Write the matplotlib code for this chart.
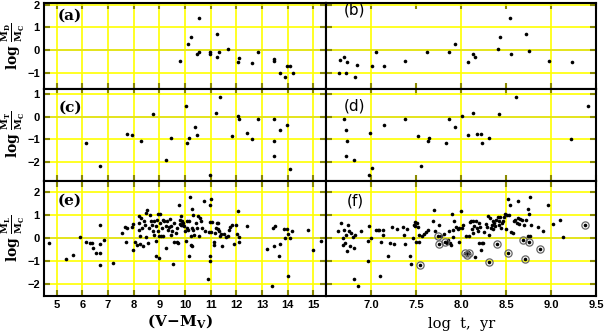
import matplotlib
matplotlib.use("Agg")
import matplotlib.pyplot as plt

# panel (a): log M_D/M_C vs (V-M_V)
a_x = [9.79, 10.12, 10.25, 10.53, 10.45, 10.54, 10.96, 10.97, 11.24, 11.25, 11.34, 11.67,
       12.05, 12.11, 12.60, 12.85, 13.46, 13.49, 13.69, 13.91, 13.96, 14.08, 14.20]
a_y = [-0.50, 0.26, 0.56, 1.40, -0.18, -0.07, -0.10, -0.19, -0.29, 0.72, -0.10, 0.03,
       -0.51, -0.34, -0.56, -0.10, -0.41, -0.50, -1.00, -1.17, -0.69, -0.70, -1.03]

# panel (b): log M_D/M_C vs log t
b_x = [6.656, 6.703, 6.737, 6.648, 6.722, 6.822, 6.844, 7.011, 7.055, 7.14, 7.381, 7.622,
       7.87, 7.929, 8.077, 8.129, 8.159, 8.411, 8.429, 8.548, 8.559, 8.722, 8.759, 8.978, 9.229]
b_y = [-0.43, -0.32, -0.53, -1.03, -1.00, -1.17, -0.66, -0.70, -0.07, -0.69, -0.47, -0.09,
       -0.10, 0.26, -0.51, -0.19, -0.29, 0.03, 0.56, 1.40, -0.16, 0.72, -0.04, -0.48, -0.54]

# panel (c): log M_T/M_C vs (V-M_V)
c_x = [6.13, 6.68, 7.72, 7.94, 8.30, 8.74, 9.27, 9.46, 10.03, 10.09, 10.17, 10.39, 10.46,
       10.99, 11.22, 11.37, 11.84, 12.06, 12.11, 12.43, 12.60, 12.83, 13.48, 13.48, 13.49,
       13.69, 13.96, 14.08]
c_y = [-1.14, -2.15, -0.76, -0.81, -1.08, 0.13, -1.91, -0.95, 0.47, -1.14, -0.92, -0.46,
       -0.79, -2.53, 0.16, 0.83, -0.83, 0.04, -0.13, -0.74, -0.96, -0.09, -0.09, -1.73,
       -1.05, -0.57, -0.38, -2.27]

# panel (d): log M_T/M_C vs log t
d_x = [6.703, 6.722, 6.733, 6.722, 6.814, 6.974, 6.992, 7.011, 7.14, 7.381, 7.522, 7.551,
       7.629, 7.64, 7.833, 7.87, 7.929, 8.007, 8.077, 8.137, 8.178, 8.222, 8.237, 8.307,
       8.418, 8.607, 9.226, 9.407]
d_y = [-0.11, -0.57, -1.05, -1.73, -1.91, -2.53, -0.74, -2.25, -0.38, -0.09, -0.83, -2.15,
       -1.06, -0.92, -1.14, -0.09, -0.46, 0.03, -0.81, 0.16, -0.77, -0.77, -1.14, -0.95,
       0.13, 0.83, -0.96, 0.47]

# panel (e): log M_L/M_C vs (V-M_V)
e_x = [4.69, 5.34, 5.64, 5.89, 6.13, 6.29, 6.36, 6.42, 6.52, 6.68, 6.68, 6.68, 6.70, 6.84,
       7.20, 7.53, 7.66, 7.70, 7.73, 7.93, 7.97, 7.99, 8.04, 8.12, 8.19, 8.19, 8.20, 8.23,
       8.25, 8.28, 8.32, 8.36, 8.41, 8.45, 8.48, 8.49, 8.52, 8.54, 8.58, 8.62, 8.67, 8.71,
       8.75, 8.78, 8.81, 8.85, 8.86, 8.88, 8.91, 8.94, 8.96, 8.98, 9.00, 9.03, 9.04, 9.07,
       9.11, 9.13, 9.15, 9.17, 9.24, 9.27, 9.30, 9.34, 9.37, 9.41, 9.44, 9.46, 9.50, 9.54,
       9.57, 9.59, 9.63, 9.67, 9.70, 9.72, 9.76, 9.79, 9.80, 9.83, 9.84, 9.87, 9.89, 9.92,
       9.95, 9.99, 10.03, 10.07, 10.09, 10.13, 10.16, 10.17, 10.18, 10.22, 10.25, 10.26,
       10.28, 10.29, 10.30, 10.33, 10.35, 10.42, 10.46, 10.51, 10.55, 10.59, 10.64, 10.68,
       10.75, 10.77, 10.88, 10.94, 10.96, 10.97, 10.97, 10.99, 11.02, 11.03, 11.07, 11.14,
       11.14, 11.18, 11.21, 11.25, 11.27, 11.30, 11.34, 11.36, 11.40, 11.44, 11.54, 11.60,
       11.67, 11.73, 11.77, 11.84, 11.93, 11.99, 12.03, 12.06, 12.09, 12.10, 12.43, 13.18,
       13.40, 13.44, 13.48, 13.50, 13.67, 13.70, 13.87, 13.92, 13.97, 14.02, 14.02, 14.08,
       14.16, 14.79, 15.01, 15.30]
e_y = [-0.22, -0.93, -0.73, 0.04, -0.15, -0.22, -0.22, -0.44, -0.66, -0.66, -0.26, -1.19,
       0.55, -0.07, -1.08, 0.22, 0.48, -0.19, 0.44, 0.48, 0.61, -0.51, -0.15, -0.29, 0.95,
       0.66, 0.36, 0.07, -0.26, 0.87, 0.44, -0.36, 0.73, 0.58, 0.03, 1.09, 1.24, -0.22,
       0.44, 1.02, 0.73, 0.58, 0.29, 0.12, 0.73, -0.77, -0.12, 0.51, 0.80, 0.29, 1.05,
       -0.87, 0.10, 0.66, 1.05, 0.07, 0.44, 0.80, 0.10, 0.73, 0.51, -0.41, 0.73, 0.36,
       0.47, 0.83, 0.51, 0.15, 0.32, -1.14, -0.15, 0.66, 0.22, -0.19, 0.44, -0.22, 1.46,
       0.80, 0.61, 0.95, 0.58, 0.73, 0.58, 0.66, 0.51, 0.29, -0.12, 0.73, 0.44, 0.36, 0.73,
       -0.76, 1.78, 0.07, -0.29, 0.44, 1.28, -0.36, 0.99, 0.36, 0.15, 0.66, 0.44, 0.95,
       0.07, 0.87, 0.73, 0.44, 1.63, 0.29, -1.79, 0.26, 1.43, -0.99, -0.76, 0.70, 1.72,
       0.26, 0.70, -0.15, -0.29, 0.22, 0.44, 0.66, 0.41, 0.66, 0.29, 0.07, 0.17, -0.36,
       0.17, 0.03, 0.07, 0.36, 0.47, 0.55, -0.26, 0.55, 0.17, 1.16, 0.03, -0.17, 0.51,
       -0.47, -2.08, 0.44, -0.36, 0.51, -0.76, -0.26, 0.41, 0.00, 0.41, -1.67, 0.17, 0.00,
       0.29, 0.36, -0.54, -0.12]

# panel (f): log M_L/M_C vs log t
f_x = [6.637, 6.667, 6.685, 6.693, 6.704, 6.715, 6.722, 6.730, 6.741, 6.752, 6.767, 6.781,
       6.796, 6.807, 6.815, 6.822, 6.852, 6.889, 6.963, 6.970, 6.981, 7.000, 7.056, 7.074,
       7.093, 7.100, 7.111, 7.130, 7.137, 7.185, 7.215, 7.233, 7.259, 7.285, 7.359, 7.370,
       7.381, 7.396, 7.433, 7.444, 7.463, 7.481, 7.489, 7.493, 7.500, 7.507, 7.519, 7.530,
       7.537, 7.544, 7.567, 7.593, 7.611, 7.630, 7.685, 7.704, 7.715, 7.741, 7.752, 7.759,
       7.778, 7.815, 7.826, 7.841, 7.852, 7.870, 7.878, 7.889, 7.900, 7.907, 7.915, 7.926,
       7.944, 7.963, 7.974, 7.981, 8.000, 8.011, 8.026, 8.048, 8.056, 8.067, 8.074, 8.085,
       8.093, 8.100, 8.111, 8.122, 8.130, 8.137, 8.148, 8.159, 8.167, 8.174, 8.185, 8.196,
       8.204, 8.215, 8.222, 8.230, 8.241, 8.259, 8.278, 8.289, 8.296, 8.307, 8.315, 8.326,
       8.333, 8.344, 8.352, 8.359, 8.370, 8.381, 8.389, 8.400, 8.407, 8.419, 8.426, 8.437,
       8.444, 8.456, 8.470, 8.481, 8.493, 8.500, 8.511, 8.519, 8.526, 8.537, 8.548, 8.556,
       8.574, 8.593, 8.604, 8.619, 8.630, 8.637, 8.648, 8.659, 8.674, 8.685, 8.696, 8.707,
       8.722, 8.741, 8.748, 8.752, 8.759, 8.767, 8.770, 8.781, 8.852, 8.878, 8.915, 8.963,
       9.019, 9.100, 9.130, 9.374]
f_y = [0.29, 0.66, 0.00, -0.29, 0.36, -0.22, 0.15, -0.55, 0.58, 0.29, -0.36, 0.22, 0.03,
       -0.41, -1.78, 0.15, -2.07, 0.32, -0.12, -0.99, 0.51, 0.00, 0.36, 0.36, 0.36, -1.67,
       -0.15, 0.12, 0.36, -0.76, -0.22, 0.47, -0.26, 0.41, 0.47, 0.12, -0.26, 0.41, -0.80,
       -1.14, 0.00, 0.58, 0.68, 0.51, -0.15, 0.66, 0.47, 0.15, -0.19, -1.19, 0.07, 0.17,
       0.26, 0.36, 0.73, 1.24, 0.29, 0.07, -0.25, 0.55, 0.07, 0.17, -0.15, -0.22, -0.07,
       0.32, -0.22, -0.29, 1.05, 0.03, 0.36, 0.73, 0.47, 0.41, -0.15, 0.44, 1.19, 0.44,
       0.58, -0.66, 0.07, -0.73, -0.61, -0.66, 0.07, 0.70, 0.76, 0.41, 0.73, 0.22, 0.51,
       -0.84, 0.73, 0.44, 0.32, -0.22, 0.66, 0.47, -0.51, -0.22, -0.22, 0.26, 0.61, 0.47,
       0.95, -1.05, 0.12, 0.87, 0.44, 0.58, 0.73, 0.39, 0.66, 0.51, 0.80, -0.26, 0.90,
       0.58, 0.73, 0.90, 0.44, 0.66, 0.76, 0.90, 1.05, 0.41, 1.02, 1.72, -0.63, 1.02, 1.43,
       0.26, 0.22, 0.73, 0.80, 0.66, 0.87, 1.63, 0.61, 0.84, 0.80, -0.07, 0.58, -0.92, 0.80,
       0.07, 1.28, 1.05, -0.15, 1.78, 0.07, 0.58, 0.47, -0.47, 0.32, 1.43, 0.61, 0.80, 0.03,
       0.55]

# circled objects in (f)
f_circ_x = [7.544, 7.741, 7.752, 7.826, 8.048, 8.067, 8.085, 8.307, 8.400, 8.526, 8.685,
            8.707, 8.759, 8.878, 9.374]
f_circ_y = [-1.19, 0.07, -0.25, -0.15, -0.66, -0.73, -0.66, -1.05, -0.26, -0.63, -0.07,
            -0.92, -0.15, -0.47, 0.55]

W, H = 605, 336
fig = plt.figure(figsize=(W / 100, H / 100), dpi=100)

cols = [(44, 282), (326, 270)]
rows = [(3.3, 89.0), (89.0, 180.7), (180.7, 295.5)]
ylims = [(-1.72, 2.06), (-2.8, 1.2), (-2.5, 2.5)]
yticks = [[-1, 0, 1, 2], [-2, -1, 0, 1], [-2, -1, 0, 1, 2]]
xlims = [(4.5, 15.5), (6.5, 9.5)]
xticks = [list(range(5, 16)), [7.0, 7.5, 8.0, 8.5, 9.0, 9.5]]
ylabels = [r"$\mathbf{log}\ \frac{\mathbf{M_D}}{\mathbf{M_C}}$",
           r"$\mathbf{log}\ \frac{\mathbf{M_T}}{\mathbf{M_C}}$",
           r"$\mathbf{log}\ \frac{\mathbf{M_L}}{\mathbf{M_C}}$"]
data = [[(a_x, a_y), (b_x, b_y)], [(c_x, c_y), (d_x, d_y)], [(e_x, e_y), (f_x, f_y)]]
letters = [["(a)", "(b)"], ["(c)", "(d)"], ["(e)", "(f)"]]
letter_y = [[0.852, 0.925], [0.80, 0.815], [0.823, 0.823]]

plt.rcParams["mathtext.fontset"] = "dejavuserif"

for r, (top, bot) in enumerate(rows):
    for c, (x0, w) in enumerate(cols):
        ax = fig.add_axes([x0 / W, 1 - bot / H, w / W, (bot - top) / H])
        ax.set_xlim(*xlims[c])
        ax.set_ylim(*ylims[r])
        ax.set_xticks(xticks[c])
        ax.set_yticks(yticks[r])
        ax.grid(True, axis="y", color="#ffff00", lw=1.2, zorder=0)
        # right column, upper rows: vertical lines only at whole values
        vlines = xticks[c] if (c == 0 or r == 2) else [7.0, 8.0, 9.0]
        for v in vlines:
            ax.axvline(v, color="#ffff00", lw=1.2, zorder=0)
        ax.axhline(0, color="#4040c0", lw=1.2, zorder=1)
        xs, ys = data[r][c]
        ax.plot(xs, ys, "o", color="black", ms=2.6, mew=0, zorder=3)
        if r == 2 and c == 1:
            ax.plot(f_circ_x, f_circ_y, "o", mfc="none", mec="#666666", ms=5.2,
                    mew=0.9, zorder=3)
        ax.tick_params(direction="in", length=4, width=1.5, color="#8a8a00",
                       top=True, right=True, labelsize=8, pad=3)
        for lab in ax.get_xticklabels() + ax.get_yticklabels():
            lab.set_fontweight("bold")
            lab.set_family("Liberation Sans")
        if r < 2:
            ax.tick_params(labelbottom=False)
        if c == 1:
            ax.tick_params(labelleft=False)
            ax.set_xticklabels(["7.0", "7.5", "8.0", "8.5", "9.0", "9.5"])
        for s in ax.spines.values():
            s.set_linewidth(1.5)
            s.set_color("black")
        if c == 0:
            ax.text(0.092, letter_y[r][c], letters[r][c], transform=ax.transAxes,
                    ha="center", va="center", fontsize=11, fontweight="bold",
                    family="DejaVu Serif")
            fig.text(13 / W, 1 - (top + bot) / 2 / H, ylabels[r], rotation=90,
                     ha="center", va="center", fontsize=10)
        else:
            ax.text(0.107, letter_y[r][c], letters[r][c], transform=ax.transAxes,
                    ha="center", va="center", fontsize=11, family="DejaVu Sans")

fig.text(180 / W, 1 - 321 / H, r"$\mathbf{(V\!-\!M_V)}$", ha="center", va="center",
         fontsize=11)
fig.text(462 / W, 1 - 324 / H, "log  t,  yr", ha="center", va="center", fontsize=10.5,
         family="DejaVu Serif")

fig.savefig("out.png", dpi=100)
